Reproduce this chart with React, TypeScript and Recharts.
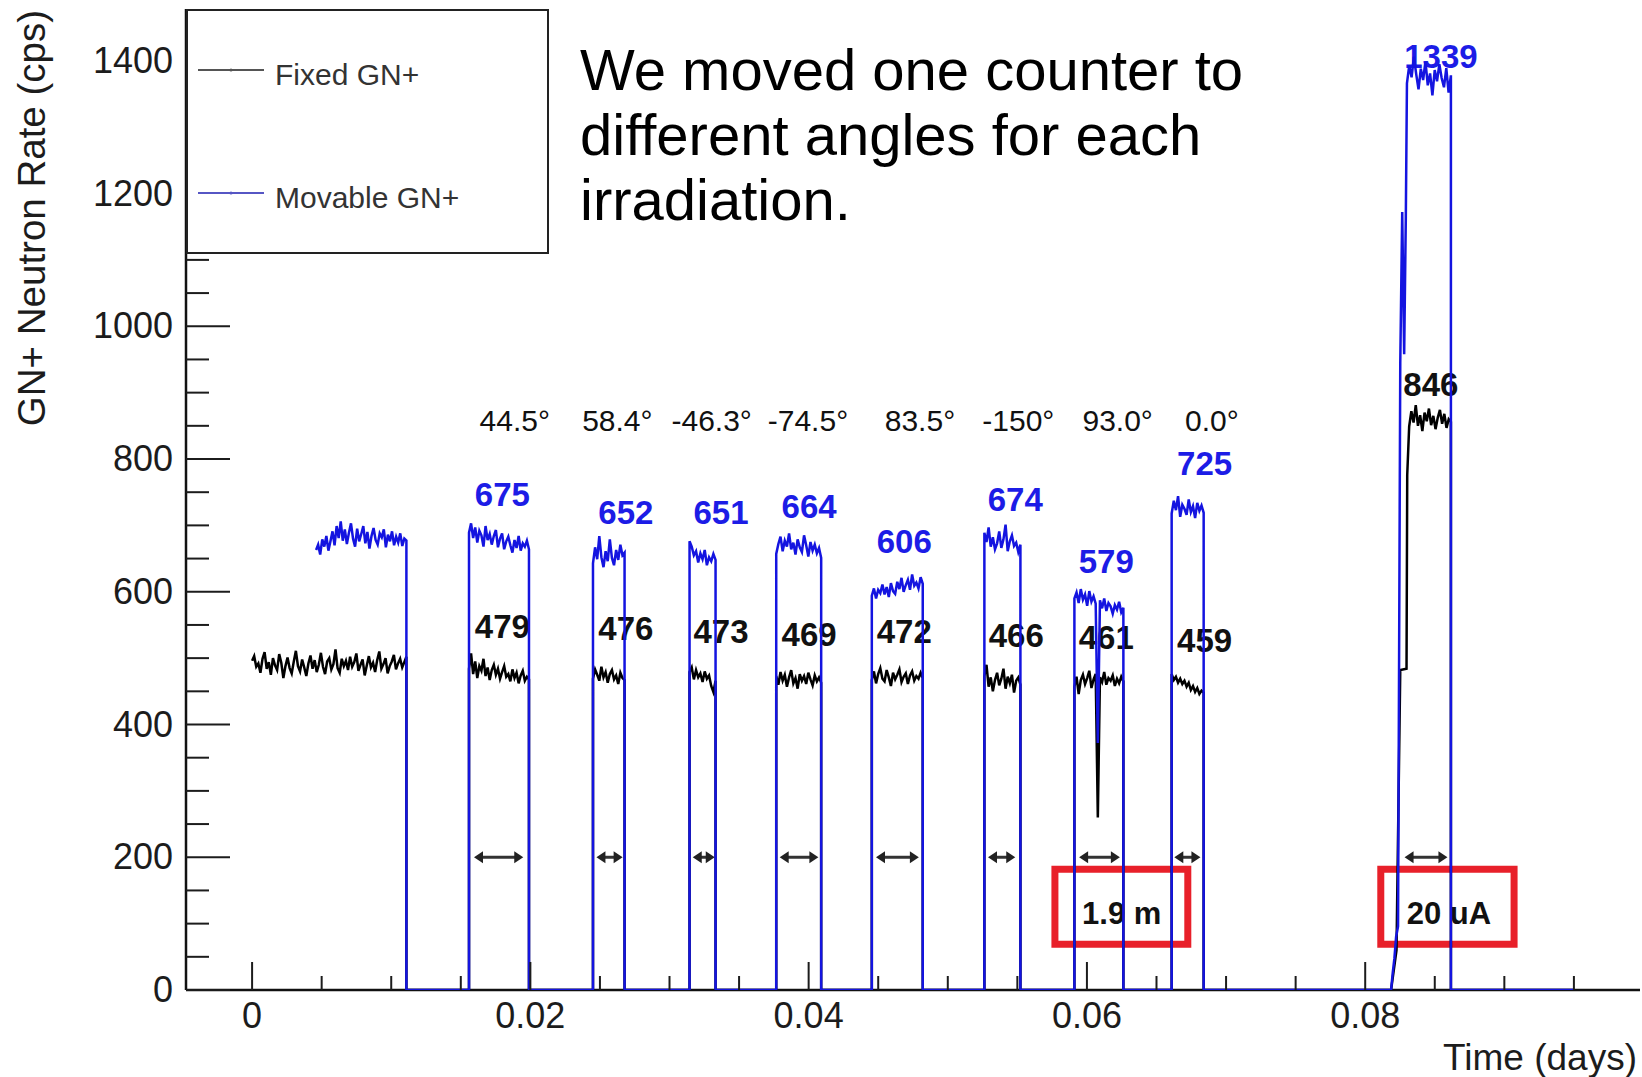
import React from 'react';
import {
  LineChart,
  Line,
  XAxis,
  YAxis,
  ReferenceDot,
  ReferenceLine,
  ReferenceArea,
  Legend,
} from 'recharts';

const FONT = '"Liberation Sans", Arial, Helvetica, sans-serif';
const W = 1642;
const H = 1077;

// ---- axes ----
const X_DOMAIN: [number, number] = [-0.00475, 0.09975];
const Y_DOMAIN: [number, number] = [0, 1478];
const X_TICKS = [
  0, 0.005, 0.01, 0.015, 0.02, 0.025, 0.03, 0.035, 0.04, 0.045, 0.05, 0.055, 0.06, 0.065,
  0.07, 0.075, 0.08, 0.085, 0.09, 0.095,
];
const X_MAJOR = [0, 0.02, 0.04, 0.06, 0.08];
const Y_TICKS = [
  0, 50, 100, 150, 200, 250, 300, 350, 400, 450, 500, 550, 600, 650, 700, 750, 800, 850, 900,
  950, 1000, 1050, 1100, 1150, 1200, 1250, 1300, 1350, 1400, 1450,
];
const Y_MAJOR = [0, 200, 400, 600, 800, 1000, 1200, 1400];

// ---- counter rates (cps) ----
const RUN_END = 0.095;

// first run: fixed counter from t=0, movable counter from 0.0046
const FIXED_FIRST_WINDOW: [number, number] = [0, 0.01109];
const FIXED_FIRST_RATE = [
  496, 503, 487, 492, 478, 499, 509, 484, 494, 475, 500, 489, 482, 506, 493, 470, 488, 501, 485,
  477, 495, 511, 488, 480, 498, 486, 473, 492, 504, 484, 497, 479, 490, 508, 487, 476, 495, 500,
  483, 491, 513, 485, 478, 499, 488, 496, 482, 502, 487, 494, 507, 481, 490, 498, 474, 489, 503,
  486, 493, 479, 497, 510, 484, 491, 500, 477, 488, 495, 505, 483, 492, 499, 486, 494, 502,
];
const MOVABLE_FIRST_WINDOW: [number, number] = [0.0046, 0.01109];
const MOVABLE_FIRST_RATE = [
  663, 671, 656, 679, 668, 684, 662, 676, 691, 670, 699, 681, 706, 677, 694, 672, 689, 703, 680,
  668, 695, 676, 687, 699, 673, 690, 665, 684, 696, 678, 671, 688, 682, 694, 667, 686, 676, 691,
  670, 683, 674, 688, 669, 680, 677,
];

// irradiations at the different angles (start, end in days)
const PULSE_WINDOWS: [number, number][] = [
  [0.01559, 0.0199],
  [0.0245, 0.02677],
  [0.03144, 0.03331],
  [0.03767, 0.0409],
  [0.04454, 0.0482],
  [0.05263, 0.05522],
  [0.0591, 0.06262],
  [0.06609, 0.06839],
];
const FIXED_PULSE_RATE: number[][] = [
  [484, 507, 476, 495, 470, 488, 481, 499, 473, 486, 467, 482, 490, 475, 484, 469, 479, 488, 472, 476, 465, 483, 470, 478, 462, 474, 481, 466, 472, 468],
  [469, 483, 475, 466, 487, 471, 479, 463, 476, 482, 468, 474, 461, 478, 470, 467],
  [479, 486, 468, 482, 471, 477, 464, 480, 469, 474, 458, 449, 466],
  [473, 460, 479, 466, 475, 457, 471, 482, 462, 470, 454, 476, 466, 473, 461, 478, 468, 459, 474, 465, 471, 463],
  [467, 480, 462, 476, 485, 469, 465, 482, 471, 458, 478, 468, 475, 483, 464, 472, 477, 461, 474, 480, 466, 473, 469, 478, 470],
  [473, 490, 457, 471, 450, 467, 478, 459, 469, 484, 454, 472, 462, 475, 448, 466, 471, 460],
  [457, 472, 446, 467, 475, 461, 470, 481, 455, 468, 476, 260, 471, 464, 479, 460, 470, 466, 474, 458, 469, 462, 472, 465],
  [476, 467, 472, 463, 469, 461, 466, 457, 463, 452, 458, 449, 455, 446, 451, 448],
];
const MOVABLE_PULSE_RATE: number[][] = [
  [689, 703, 681, 697, 674, 692, 685, 668, 699, 678, 687, 671, 684, 693, 667, 680, 688, 664, 676, 683, 670, 659, 678, 666, 684, 662, 673, 668, 677, 664],
  [643, 667, 649, 684, 652, 637, 661, 646, 679, 651, 640, 663, 648, 671, 655, 659],
  [676, 668, 655, 661, 644, 658, 649, 663, 640, 652, 646, 657, 648],
  [657, 672, 683, 661, 677, 668, 688, 664, 674, 656, 679, 667, 660, 685, 670, 653, 675, 662, 671, 658, 666, 651],
  [594, 605, 590, 603, 598, 611, 596, 607, 592, 613, 601, 597, 615, 604, 621, 600, 610, 618, 603, 626, 609, 614, 605, 622, 612],
  [689, 675, 697, 668, 682, 664, 673, 691, 666, 679, 701, 661, 676, 685, 669, 674, 660, 671],
  [590, 599, 583, 604, 588, 596, 579, 601, 585, 593, 582, 372, 587, 575, 590, 571, 583, 578, 567, 580, 573, 585, 569, 576],
  [718, 737, 723, 744, 713, 731, 725, 716, 739, 720, 729, 711, 734, 722, 730, 719],
];

// 20 uA run: beam ramp-up, then plateau
const FIXED_HIGH_RISE: [number, number][] = [
  [0.08186, 0],
  [0.08225, 60],
  [0.08252, 482],
  [0.08297, 484],
  [0.08302, 776],
];
const FIXED_HIGH_WINDOW: [number, number] = [0.08316, 0.08616];
const FIXED_HIGH_RATE = [
  849, 872, 855, 881, 850, 866, 842, 870, 857, 876, 851, 865, 845, 862, 874, 853, 868, 847, 860, 856,
];

const MOVABLE_HIGH_RISE: [number, number][] = [
  [0.08186, 0],
  [0.08198, 26],
  [0.0821, 48],
  [0.08222, 80],
  [0.08236, 96],
  [0.08252, 945],
  [0.08266, 1172],
  [0.0828, 958],
  [0.08292, 1165],
];
const MOVABLE_HIGH_WINDOW: [number, number] = [0.083, 0.08616];
const MOVABLE_HIGH_RATE = [
  1366, 1393, 1375, 1406, 1380, 1357, 1388, 1371, 1399, 1363, 1381, 1348, 1386, 1369, 1395, 1374,
  1360, 1389, 1352, 1378,
];

// ---- annotations ----
const ANGLE_TEXT = ['44.5°', '58.4°', '-46.3°', '-74.5°', '83.5°', '-150°', '93.0°', '0.0°'];
const ANGLE_T = [0.01888, 0.02625, 0.03303, 0.03995, 0.048, 0.05507, 0.06221, 0.06898];
const ANGLE_ROW = 858;

const MOVABLE_MEAN = [675, 652, 651, 664, 606, 674, 579, 725, 1339];
const MOVABLE_MEAN_T = [0.01799, 0.02686, 0.0337, 0.04003, 0.04687, 0.05485, 0.06139, 0.06846, 0.08544];
const MOVABLE_MEAN_ROW = [746, 719, 719, 728, 675, 739, 645, 793, 1407];

const FIXED_MEAN = [479, 476, 473, 469, 472, 466, 461, 459, 846];
const FIXED_MEAN_T = [0.01799, 0.02686, 0.0337, 0.04003, 0.04687, 0.05492, 0.06139, 0.06846, 0.08472];
const FIXED_MEAN_ROW = [548, 544, 540, 536, 540, 534, 531, 526, 913];

const SPAN_ROW = 200;
const SPANS: [number, number][] = [
  [0.01595, 0.01949],
  [0.02475, 0.02663],
  [0.03167, 0.03325],
  [0.03792, 0.0407],
  [0.04484, 0.04792],
  [0.05289, 0.05485],
  [0.05944, 0.06237],
  [0.06628, 0.06816],
  [0.08283, 0.08591],
];

const NOTE_TEXT = ['1.9 m', '20 uA'];
const NOTE_BOX_X: [number, number][] = [
  [0.0577, 0.06725],
  [0.08112, 0.0907],
];
const NOTE_BOX_Y: [number, number] = [69, 182];
const NOTE_T = [0.0625, 0.08602];
const NOTE_ROW = 116;

const TITLE_LINES = ['We moved one counter to', 'different angles for each', 'irradiation.'];

const FIXED_NAME = 'Fixed GN+';
const MOVABLE_NAME = 'Movable GN+';
const FIXED_COLOR = '#000000';
const MOVABLE_COLOR = '#1414e0';

// ---- series assembly ----
type Pt = { t: number; v: number };

function plateau([t0, t1]: [number, number], rates: number[]): Pt[] {
  const n = rates.length;
  return rates.map((v, i) => ({ t: t0 + ((t1 - t0) * i) / (n - 1), v }));
}

function buildSeries(
  first: [number, number],
  firstRate: number[],
  pulseRates: number[][],
  rise: [number, number][],
  highWindow: [number, number],
  highRate: number[],
): Pt[] {
  const pts: Pt[] = [...plateau(first, firstRate), { t: first[1], v: 0 }];
  PULSE_WINDOWS.forEach((w, i) => {
    pts.push({ t: w[0], v: 0 });
    pts.push(...plateau(w, pulseRates[i]));
    pts.push({ t: w[1], v: 0 });
  });
  rise.forEach(([t, v]) => pts.push({ t, v }));
  pts.push(...plateau(highWindow, highRate));
  pts.push({ t: highWindow[1], v: 0 });
  pts.push({ t: RUN_END, v: 0 });
  return pts;
}

const FIXED_SERIES = buildSeries(
  FIXED_FIRST_WINDOW,
  FIXED_FIRST_RATE,
  FIXED_PULSE_RATE,
  FIXED_HIGH_RISE,
  FIXED_HIGH_WINDOW,
  FIXED_HIGH_RATE,
);
const MOVABLE_SERIES = buildSeries(
  MOVABLE_FIRST_WINDOW,
  MOVABLE_FIRST_RATE,
  MOVABLE_PULSE_RATE,
  MOVABLE_HIGH_RISE,
  MOVABLE_HIGH_WINDOW,
  MOVABLE_HIGH_RATE,
);

// ---- renderers ----
const AXIS_INK = '#1c1c1c';

const isMajor = (list: number[], v: number) => list.some((m) => Math.abs(m - v) < 1e-9);

const XTick = (p: any) => {
  const { x, y, payload } = p;
  const major = isMajor(X_MAJOR, payload.value);
  return (
    <g>
      <line x1={x} x2={x} y1={y} y2={y - (major ? 28 : 14)} stroke={AXIS_INK} strokeWidth={2} />
      {major && (
        <text x={x} y={y + 38} textAnchor="middle" fontSize={36} fill={AXIS_INK} fontFamily={FONT}>
          {String(payload.value)}
        </text>
      )}
    </g>
  );
};

const YTick = (p: any) => {
  const { x, y, payload } = p;
  const major = isMajor(Y_MAJOR, payload.value);
  return (
    <g>
      <line x1={x} x2={x + (major ? 44 : 23)} y1={y} y2={y} stroke={AXIS_INK} strokeWidth={2} />
      {major && (
        <text x={x - 13} y={y + 12} textAnchor="end" fontSize={36} fill={AXIS_INK} fontFamily={FONT}>
          {String(payload.value)}
        </text>
      )}
    </g>
  );
};

const XTitle = (p: any) => {
  const vb = p.viewBox || { x: 186, y: 990, width: 1454, height: 87 };
  return (
    <text
      x={vb.x + vb.width - 3}
      y={vb.y + 80}
      textAnchor="end"
      fontSize={37}
      fill={AXIS_INK}
      fontFamily={FONT}
    >
      Time (days)
    </text>
  );
};

const YTitle = (p: any) => {
  const vb = p.viewBox || { x: 0, y: 9, width: 186, height: 981 };
  const ax = vb.x + 45;
  const ay = vb.y + 1;
  return (
    <text
      x={ax}
      y={ay}
      textAnchor="end"
      fontSize={38.5}
      fill={AXIS_INK}
      fontFamily={FONT}
      transform={`rotate(-90, ${ax}, ${ay})`}
    >
      GN+ Neutron Rate (cps)
    </text>
  );
};

const textLabel =
  (text: string, color: string, size: number, weight: number) =>
  (p: any) => {
    const vb = p.viewBox || {};
    const cx = (vb.x ?? vb.cx ?? 0) + (vb.width ?? 0) / 2;
    const cy = (vb.y ?? vb.cy ?? 0) + (vb.height ?? 0) / 2;
    return (
      <text
        x={cx}
        y={cy}
        textAnchor="middle"
        dominantBaseline="central"
        fontSize={size}
        fontWeight={weight}
        fill={color}
        fontFamily={FONT}
      >
        {text}
      </text>
    );
  };

const SpanArrow = (p: any) => {
  const { x1, y1, x2, y2 } = p;
  const l = Math.min(x1, x2);
  const r = Math.max(x1, x2);
  const y = (y1 + y2) / 2;
  const hl = 9;
  const hw = 6;
  return (
    <g>
      <line x1={l + hl - 1} y1={y} x2={r - hl + 1} y2={y} stroke="#333" strokeWidth={3} />
      <polygon points={`${l},${y} ${l + hl},${y - hw} ${l + hl},${y + hw}`} fill="#222" />
      <polygon points={`${r},${y} ${r - hl},${y - hw} ${r - hl},${y + hw}`} fill="#222" />
    </g>
  );
};

const LEGEND_SWATCH: Record<string, string> = {
  [FIXED_NAME]: '#555555',
  [MOVABLE_NAME]: '#5656c4',
};

const LegendBox = (props: any) => {
  const items: { value: string }[] =
    props.payload && props.payload.length
      ? props.payload
      : [{ value: FIXED_NAME }, { value: MOVABLE_NAME }];
  const rows = [61, 184];
  return (
    <svg width={363} height={245} style={{ display: 'block' }}>
      <rect x={1} y={1} width={361} height={243} fill="#fff" stroke="#222" strokeWidth={2} />
      {items.slice(0, 2).map((it, i) => (
        <g key={it.value}>
          <line
            x1={12}
            x2={78}
            y1={rows[i]}
            y2={rows[i]}
            stroke={LEGEND_SWATCH[it.value] || '#555'}
            strokeWidth={2}
          />
          <circle cx={45} cy={rows[i]} r={1.5} fill={LEGEND_SWATCH[it.value] || '#555'} />
          <text x={89} y={rows[i] + 15} fontSize={30} fill="#333" fontFamily={FONT}>
            {it.value}
          </text>
        </g>
      ))}
    </svg>
  );
};

export default function App() {
  return (
    <div
      style={{
        position: 'absolute',
        left: 0,
        top: 0,
        width: W,
        height: H,
        background: '#fff',
        fontFamily: FONT,
      }}
    >
      <LineChart width={W} height={H} margin={{ top: 9, right: 2, bottom: 0, left: 0 }}>
        <XAxis
          dataKey="t"
          type="number"
          domain={X_DOMAIN}
          allowDataOverflow
          ticks={X_TICKS}
          interval={0}
          tick={XTick}
          tickLine={false}
          tickSize={0}
          tickMargin={0}
          height={87}
          axisLine={{ stroke: '#111', strokeWidth: 2.5 }}
          label={XTitle}
        />
        <YAxis
          type="number"
          domain={Y_DOMAIN}
          allowDataOverflow
          ticks={Y_TICKS}
          interval={0}
          tick={YTick}
          tickLine={false}
          tickSize={0}
          tickMargin={0}
          width={186}
          axisLine={{ stroke: '#111', strokeWidth: 2.5 }}
          label={YTitle}
        />
        <XAxis
          xAxisId="frameTop"
          orientation="top"
          type="number"
          domain={X_DOMAIN}
          height={0}
          tick={false}
          tickLine={false}
          axisLine={{ stroke: '#222', strokeWidth: 2 }}
        />
        <YAxis
          yAxisId="frameRight"
          orientation="right"
          type="number"
          domain={Y_DOMAIN}
          width={0}
          tick={false}
          tickLine={false}
          axisLine={{ stroke: '#222', strokeWidth: 2 }}
        />

        <Line
          data={FIXED_SERIES}
          dataKey="v"
          name={FIXED_NAME}
          type="linear"
          stroke={FIXED_COLOR}
          strokeWidth={2.5}
          dot={false}
          activeDot={false}
          isAnimationActive={false}
          zIndex={600}
        />
        <Line
          data={MOVABLE_SERIES}
          dataKey="v"
          name={MOVABLE_NAME}
          type="linear"
          stroke={MOVABLE_COLOR}
          strokeWidth={2.5}
          dot={false}
          activeDot={false}
          isAnimationActive={false}
          zIndex={601}
        />

        {SPANS.map((s, i) => (
          <ReferenceLine
            key={`span-${i}`}
            segment={[
              { x: s[0], y: SPAN_ROW },
              { x: s[1], y: SPAN_ROW },
            ]}
            shape={SpanArrow}
          />
        ))}

        {NOTE_BOX_X.map((bx, i) => (
          <ReferenceArea
            key={`box-${i}`}
            x1={bx[0]}
            x2={bx[1]}
            y1={NOTE_BOX_Y[0]}
            y2={NOTE_BOX_Y[1]}
            fill="none"
            fillOpacity={0}
            stroke="#e8202a"
            strokeWidth={7}
          />
        ))}

        {ANGLE_TEXT.map((txt, i) => (
          <ReferenceDot
            key={`ang-${i}`}
            x={ANGLE_T[i]}
            y={ANGLE_ROW}
            r={0}
            fill="none"
            stroke="none"
            label={textLabel(txt, '#111', 30, 400)}
          />
        ))}
        {MOVABLE_MEAN.map((m, i) => (
          <ReferenceDot
            key={`mm-${i}`}
            x={MOVABLE_MEAN_T[i]}
            y={MOVABLE_MEAN_ROW[i]}
            r={0}
            fill="none"
            stroke="none"
            label={textLabel(String(m), '#1c1ce6', 33, 700)}
          />
        ))}
        {FIXED_MEAN.map((m, i) => (
          <ReferenceDot
            key={`fm-${i}`}
            x={FIXED_MEAN_T[i]}
            y={FIXED_MEAN_ROW[i]}
            r={0}
            fill="none"
            stroke="none"
            label={textLabel(String(m), '#111', 33, 700)}
          />
        ))}
        {NOTE_TEXT.map((txt, i) => (
          <ReferenceDot
            key={`note-${i}`}
            x={NOTE_T[i]}
            y={NOTE_ROW}
            r={0}
            fill="none"
            stroke="none"
            label={textLabel(txt, '#111', 31, 700)}
          />
        ))}

        <Legend
          layout="horizontal"
          verticalAlign="middle"
          align="center"
          wrapperStyle={{ left: 186, top: 9, width: 363, height: 245, margin: 0, padding: 0 }}
          content={(props: any) => <LegendBox {...props} />}
        />
      </LineChart>

      <div
        style={{
          position: 'absolute',
          left: 580,
          top: 37,
          fontSize: 58,
          lineHeight: '65px',
          color: '#000',
          fontFamily: FONT,
          whiteSpace: 'pre',
          pointerEvents: 'none',
        }}
      >
        {TITLE_LINES.map((ln) => (
          <div key={ln}>{ln}</div>
        ))}
      </div>
    </div>
  );
}
